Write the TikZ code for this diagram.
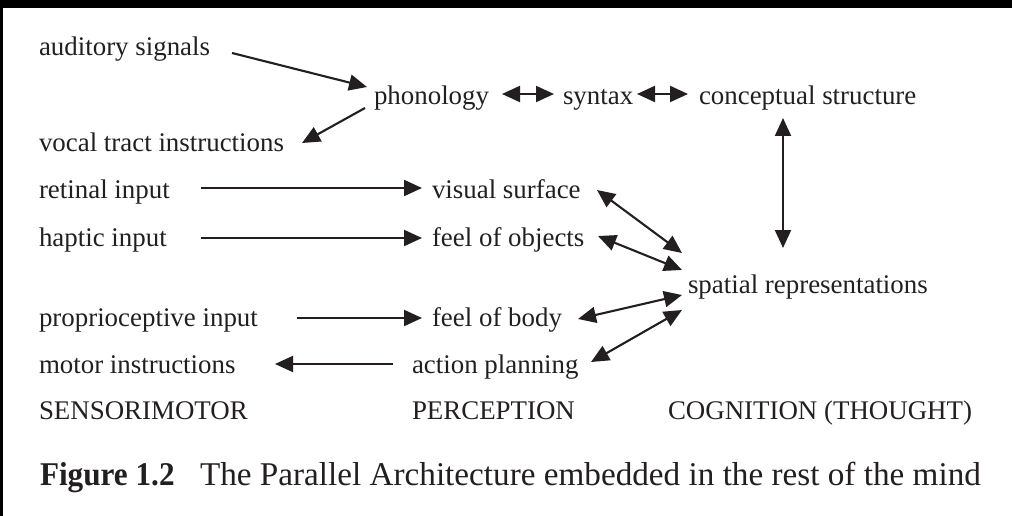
\documentclass[tikz,border=0pt]{standalone}
\usepackage{fontspec}
\setmainfont{Liberation Serif}
\usetikzlibrary{arrows.meta}
\definecolor{ink}{HTML}{231F20}
\begin{document}
\begin{tikzpicture}[x=1pt,y=-1pt,
  lbl/.style={anchor=base west,inner sep=0pt,outer sep=0pt,text=ink,font=\fontsize{26.9}{32}\selectfont},
  caplbl/.style={anchor=base west,inner sep=0pt,outer sep=0pt,text=ink,font=\fontsize{33.2}{40}\selectfont},
  arr/.style={-{Triangle[length=18pt,width=16pt]},line width=2.1pt,draw=ink},
  dbl/.style={{Triangle[length=18pt,width=16pt]}-{Triangle[length=18pt,width=16pt]},line width=2.1pt,draw=ink}]
\useasboundingbox (0,0) rectangle (1012,516);
\fill[white] (0,0) rectangle (1012,516);
\fill[black] (0,0) rectangle (1012,8);
\fill[black] (0,0) rectangle (3,516);

% nodes
\node[lbl] (aud) at (39,56) {auditory signals};
\node[lbl] (pho) at (374,105) {phonology};
\node[lbl] (syn) at (563,105) {syntax};
\node[lbl] (con) at (699,105) {conceptual structure};
\node[lbl] (voc) at (39,151) {vocal tract instructions};
\node[lbl] (ret) at (39,198) {retinal input};
\node[lbl] (vis) at (432,198) {visual surface};
\node[lbl] (hap) at (39,246) {haptic input};
\node[lbl] (obj) at (432,246) {feel of objects};
\node[lbl] (spa) at (688,293) {spatial representations};
\node[lbl] (pro) at (39,326) {proprioceptive input};
\node[lbl] (bod) at (432,326) {feel of body};
\node[lbl] (mot) at (39,373) {motor instructions};
\node[lbl] (act) at (412,373) {action planning};
\node[lbl] (sen) at (39,419) {SENSORIMOTOR};
\node[lbl] (per) at (412,419) {PERCEPTION};
\node[lbl] (cog) at (668,419) {COGNITION (THOUGHT)};
\node[caplbl] (fig) at (40,485) {\makebox[160pt][l]{\scalebox{0.94}[1]{\bfseries Figure 1.2}}The Parallel Architecture embedded in the rest of the mind};

% connectors
\draw[arr] ([shift={(193,-3)}]aud.base west) -- ([shift={(-7,-18)}]pho.base west);
\draw[arr] ([shift={(-9,3)}]pho.base west) -- ([shift={(263,-8)}]voc.base west);
\draw[dbl] ([shift={(128,-11)}]pho.base west) -- ([shift={(-9,-11)}]syn.base west);
\draw[dbl] ([shift={(74,-11)}]syn.base west) -- ([shift={(-11,-11)}]con.base west);
\draw[arr] ([shift={(162,-10)}]ret.base west) -- ([shift={(-10,-10)}]vis.base west);
\draw[arr] ([shift={(162,-8)}]hap.base west) -- ([shift={(-10,-8)}]obj.base west);
\draw[arr] ([shift={(258,-8)}]pro.base west) -- ([shift={(-10,-8)}]bod.base west);
\draw[arr] ([shift={(-19,-9)}]act.base west) -- ([shift={(236,-9)}]mot.base west);
\draw[dbl] ([shift={(84,13)}]con.base west) -- ([shift={(95,-45)}]spa.base west);
\draw[dbl] ([shift={(165,-8)}]vis.base west) -- ([shift={(-6,-40)}]spa.base west);
\draw[dbl] ([shift={(166,-10)}]obj.base west) -- ([shift={(-6,-23)}]spa.base west);
\draw[dbl] ([shift={(146,-7)}]bod.base west) -- ([shift={(-6,2)}]spa.base west);
\draw[dbl] ([shift={(179,-11)}]act.base west) -- ([shift={(-6,17)}]spa.base west);
\end{tikzpicture}
\end{document}
